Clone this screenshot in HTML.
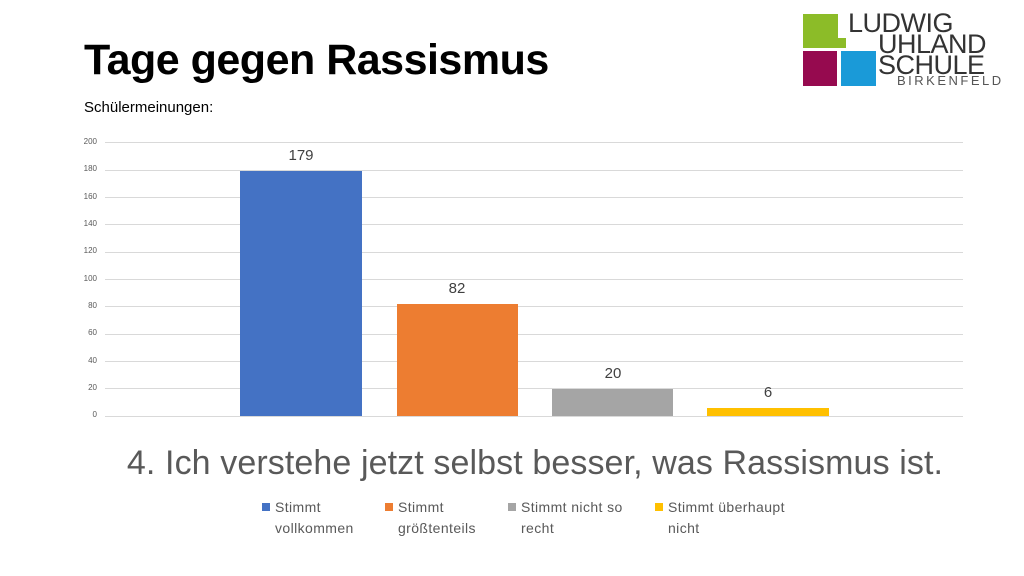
<!DOCTYPE html>
<html><head><meta charset="utf-8"><style>
body{margin:0;width:1024px;height:576px;background:#fff;position:relative;overflow:hidden;font-family:"Liberation Sans",sans-serif}
.a{position:absolute}
.t{left:84px;top:36px;font-size:43px;font-weight:bold;color:#000;letter-spacing:-0.5px}
.s{left:84px;top:99px;font-size:15px;color:#000}
.g{left:105px;width:858px;height:1px;background:#d9d9d9}
.yl{left:60px;width:37px;text-align:right;font-size:8px;color:#595959}
.v{font-size:15px;color:#404040;text-align:center;width:122px}
.leg{font-size:14px;color:#595959;line-height:21px;letter-spacing:0.4px;white-space:nowrap}
.sw{width:8px;height:8px;top:6px;left:-13px}
.lg{font-size:27px;color:#333;letter-spacing:-0.5px;line-height:23px}
</style></head><body>
<div class="a t">Tage gegen Rassismus</div>
<div class="a s">Schülermeinungen:</div>

<div class="a" style="left:803px;top:14px;width:35px;height:34px;background:#8cbc28"></div>
<div class="a" style="left:838px;top:38px;width:8px;height:10px;background:#8cbc28"></div>
<div class="a" style="left:803px;top:51px;width:34px;height:35px;background:#960a4f"></div>
<div class="a" style="left:841px;top:51px;width:35px;height:35px;background:#1a9ad8"></div>
<div class="a lg" style="left:848px;top:12px">LUDWIG</div>
<div class="a lg" style="left:878px;top:33px">UHLAND</div>
<div class="a lg" style="left:878px;top:54px">SCHULE</div>
<div class="a" style="left:897px;top:73px;font-size:13px;color:#555;letter-spacing:2.5px">BIRKENFELD</div>

<div class="a g" style="top:142px"></div>
<div class="a g" style="top:170px"></div>
<div class="a g" style="top:197px"></div>
<div class="a g" style="top:224px"></div>
<div class="a g" style="top:252px"></div>
<div class="a g" style="top:279px"></div>
<div class="a g" style="top:306px"></div>
<div class="a g" style="top:334px"></div>
<div class="a g" style="top:361px"></div>
<div class="a g" style="top:388px"></div>
<div class="a g" style="top:416px"></div>
<div class="a yl" style="top:137px">200</div>
<div class="a yl" style="top:164px">180</div>
<div class="a yl" style="top:192px">160</div>
<div class="a yl" style="top:219px">140</div>
<div class="a yl" style="top:246px">120</div>
<div class="a yl" style="top:274px">100</div>
<div class="a yl" style="top:301px">80</div>
<div class="a yl" style="top:328px">60</div>
<div class="a yl" style="top:356px">40</div>
<div class="a yl" style="top:383px">20</div>
<div class="a yl" style="top:410px">0</div>

<div class="a" style="left:240px;top:171px;width:122px;height:245px;background:#4472c4"></div>
<div class="a" style="left:397px;top:304px;width:121px;height:112px;background:#ed7d31"></div>
<div class="a" style="left:552px;top:389px;width:121px;height:27px;background:#a5a5a5"></div>
<div class="a" style="left:707px;top:408px;width:122px;height:8px;background:#ffc000"></div>
<div class="a v" style="left:240px;top:147px">179</div>
<div class="a v" style="left:396px;top:280px">82</div>
<div class="a v" style="left:552px;top:365px">20</div>
<div class="a v" style="left:707px;top:384px">6</div>

<div class="a" style="left:0;width:1070px;text-align:center;top:444px;font-size:34px;color:#595959;letter-spacing:0.1px">4. Ich verstehe jetzt selbst besser, was Rassismus ist.</div>

<div class="a leg" style="left:275px;top:497px"><div class="a sw" style="background:#4472c4"></div>Stimmt<br>vollkommen</div>
<div class="a leg" style="left:398px;top:497px"><div class="a sw" style="background:#ed7d31"></div>Stimmt<br>größtenteils</div>
<div class="a leg" style="left:521px;top:497px"><div class="a sw" style="background:#a5a5a5"></div>Stimmt nicht so<br>recht</div>
<div class="a leg" style="left:668px;top:497px"><div class="a sw" style="background:#ffc000"></div>Stimmt überhaupt<br>nicht</div>
</body></html>
